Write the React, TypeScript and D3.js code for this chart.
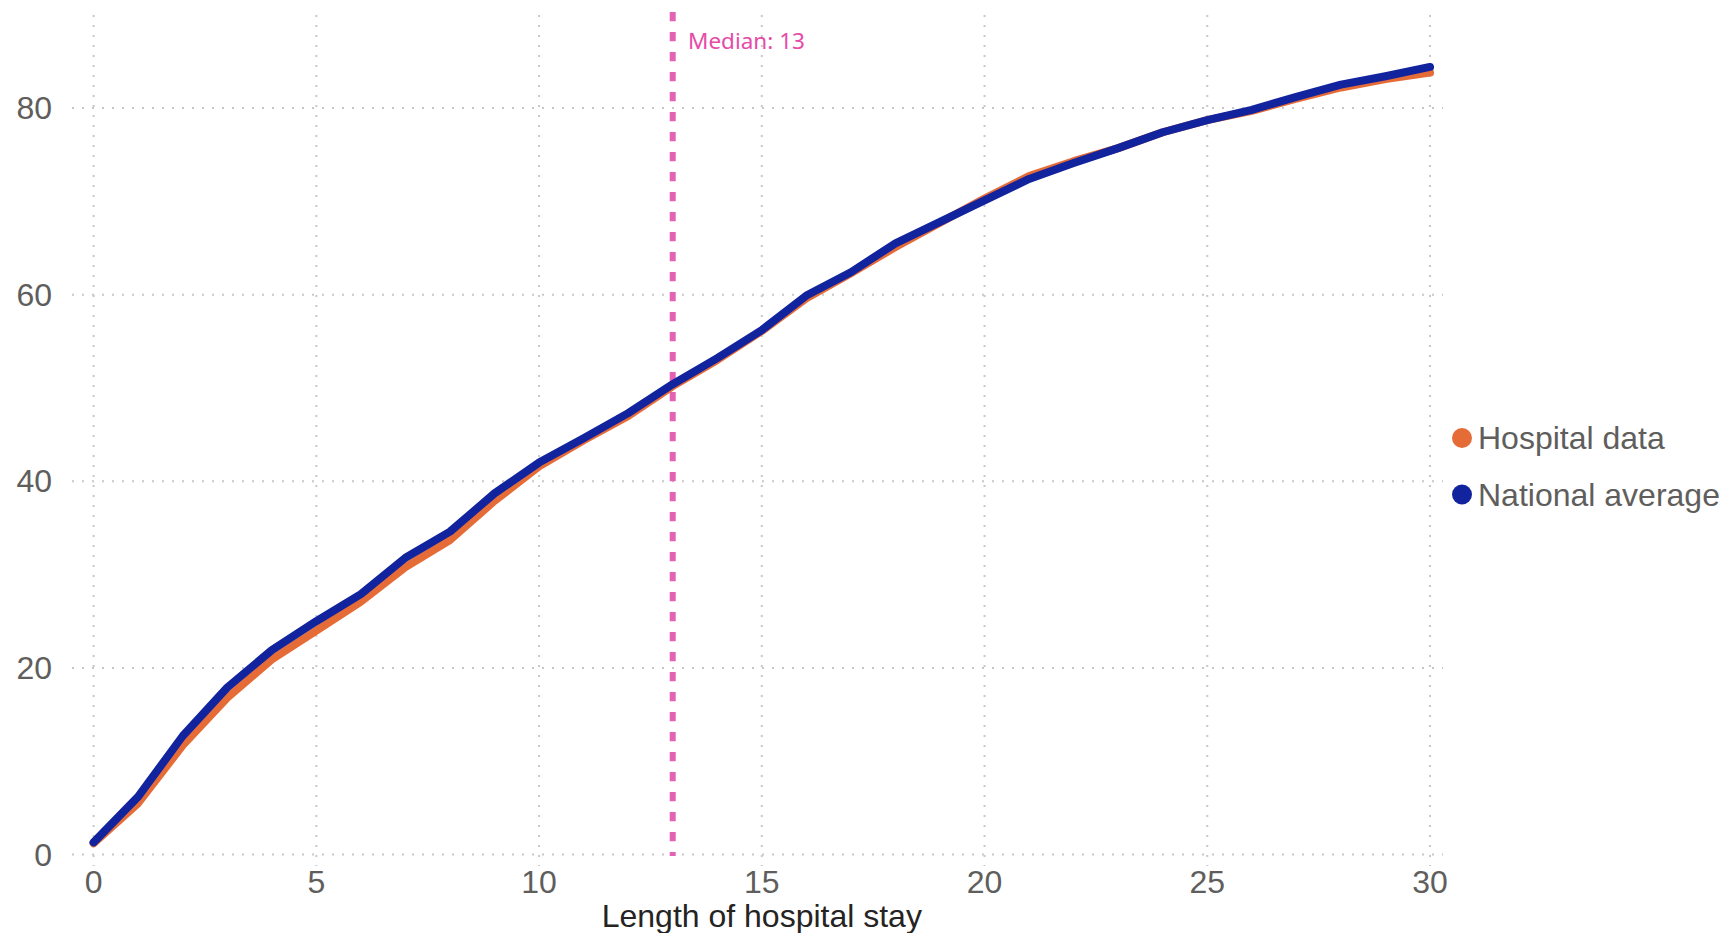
import React from "react";
import * as d3 from "d3";

const days: number[] = Array.from({ length: 31 }, (_, i) => i);
const hospitalData: number[] = [1.2, 5.5, 11.7, 16.8, 20.9, 24.0, 27.1, 30.8, 33.7, 37.9, 41.6, 44.4, 47.0, 50.2, 53.0, 56.1, 59.6, 62.3, 65.1, 67.7, 70.3, 72.7, 74.3, 75.7, 77.4, 78.7, 79.7, 81.0, 82.2, 83.1, 83.8];
const nationalAverage: number[] = [1.3, 6.2, 12.7, 17.9, 21.9, 25.0, 27.9, 31.8, 34.6, 38.7, 42.0, 44.6, 47.3, 50.4, 53.2, 56.2, 59.9, 62.4, 65.5, 67.8, 70.1, 72.4, 74.1, 75.7, 77.4, 78.7, 79.8, 81.2, 82.5, 83.4, 84.4];
const xTicks: number[] = [0, 5, 10, 15, 20, 25, 30];
const yTicks: number[] = [0, 20, 40, 60, 80];
const medianValue = 13;
const seriesNames: string[] = ["Hospital data", "National average"];
const seriesColors: string[] = ["#E66C37", "#12239E"];

const W = 1723;
const H = 933;

export default function App() {
  const x = d3.scaleLinear().domain([0, 30]).range([93.6, 1430]);
  const y = d3.scaleLinear().domain([0, 80]).range([854.5, 108]);
  const line = d3
    .line<number>()
    .x((_, i) => x(days[i]))
    .y((d) => y(d));

  const series = [hospitalData, nationalAverage];
  const font = "'Liberation Sans', Arial, sans-serif";

  return (
    <div style={{ position: "absolute", left: 0, top: 0 }}>
      <svg width={W} height={H} style={{ display: "block", background: "#fff" }}>
        {/* grid */}
        <g stroke="#C8C8C8" strokeWidth={2} strokeDasharray="2 8">
          {yTicks.map((t) => (
            <line key={"gy" + t} x1={72} x2={1443} y1={y(t)} y2={y(t)} />
          ))}
          {xTicks.map((t) => (
            <line key={"gx" + t} x1={x(t)} x2={x(t)} y1={15} y2={866} />
          ))}
        </g>
        {/* y labels */}
        <g fill="#605E5C" fontFamily={font} fontSize={32} textAnchor="end">
          {yTicks.map((t) => (
            <text key={"yl" + t} x={52} y={y(t)} dominantBaseline="central">
              {t}
            </text>
          ))}
        </g>
        {/* x labels */}
        <g fill="#605E5C" fontFamily={font} fontSize={32} textAnchor="middle">
          {xTicks.map((t) => (
            <text key={"xl" + t} x={x(t)} y={893}>
              {t}
            </text>
          ))}
        </g>
        <text x={(x(0) + x(30)) / 2} y={927} fill="#252423" fontFamily={font} fontSize={32} textAnchor="middle">
          Length of hospital stay
        </text>
        {/* median */}
        <line
          x1={x(medianValue)}
          x2={x(medianValue)}
          y1={12}
          y2={856}
          stroke="#E462B4"
          strokeWidth={6}
          strokeDasharray="9.3 10.7"
        />
        <text x={688} y={49} fill="#E64BA8" fontFamily="'Noto Sans', 'Open Sans', sans-serif" fontSize={22.5}>
          Median: {medianValue}
        </text>
        {/* lines */}
        {series.map((s, i) => (
          <path
            key={"s" + i}
            d={line(s) || ""}
            fill="none"
            stroke={seriesColors[i]}
            strokeWidth={8}
            strokeLinecap="round"
            strokeLinejoin="round"
          />
        ))}
        {/* legend */}
        {seriesNames.map((n, i) => (
          <g key={"lg" + i} transform={`translate(1462, ${438 + i * 56.5})`}>
            <circle r={10} fill={seriesColors[i]} />
            <text x={16} y={0} dominantBaseline="central" fill="#605E5C" fontFamily={font} fontSize={32}>
              {n}
            </text>
          </g>
        ))}
      </svg>
    </div>
  );
}
